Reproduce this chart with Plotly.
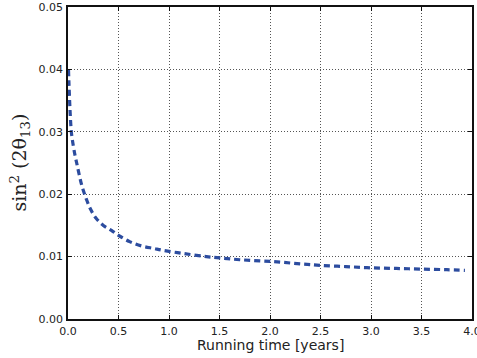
import plotly.graph_objects as go

years = [0.005, 0.01, 0.02, 0.033, 0.05, 0.07, 0.086, 0.11, 0.14, 0.18, 0.22, 0.28, 0.35, 0.43,
         0.5, 0.61, 0.73, 0.85, 0.94, 1.14, 1.37, 1.5, 1.7, 2.03, 2.33, 2.5, 2.75, 3.0, 3.25,
         3.5, 3.75, 3.93]
sin2 = [0.0399, 0.0375, 0.0335, 0.0300, 0.0280, 0.0262, 0.0250, 0.0232, 0.0212, 0.0193, 0.0177,
        0.0161, 0.0150, 0.0142, 0.0134, 0.0124, 0.0117, 0.0113, 0.0110, 0.0105, 0.0100, 0.0098,
        0.0095, 0.0092, 0.0088, 0.0086, 0.0084, 0.0082, 0.0081, 0.0080, 0.0079, 0.0078]

x_ticks = [0.0, 0.5, 1.0, 1.5, 2.0, 2.5, 3.0, 3.5, 4.0]
x_tick_labels = ["0.0", "0.5", "1.0", "1.5", "2.0", "2.5", "3.0", "3.5", "4.0"]
y_ticks = [0.0, 0.01, 0.02, 0.03, 0.04, 0.05]
y_tick_labels = ["0.00", "0.01", "0.02", "0.03", "0.04", "0.05"]

fig = go.Figure()
fig.add_trace(go.Scatter(
    x=years, y=sin2, mode="lines", line_shape="spline",
    line=dict(color="#2c4c9f", width=3.2, dash="6px,4px"),
    showlegend=False, hoverinfo="skip",
))

axis_common = dict(
    showline=True, linecolor="#111", linewidth=1.5, mirror="ticks",
    ticks="inside", ticklen=4, tickcolor="#111", tickwidth=1,
    showgrid=True, gridcolor="#555", griddash="1px,2px", gridwidth=1,
    zeroline=False, automargin=False, ticklabeloverflow="allow",
    tickfont=dict(family="DejaVu Sans", size=11, color="#222"),
)

fig.update_xaxes(range=[0, 4], tickvals=x_ticks, ticktext=x_tick_labels,
                 ticklabelstandoff=1, **axis_common)
fig.update_yaxes(range=[0, 0.05], tickvals=y_ticks, ticktext=y_tick_labels,
                 ticklabelstandoff=1, **axis_common)

fig.add_annotation(
    text="Running time [years]", xref="paper", yref="paper",
    x=0.5, y=-0.082, xanchor="center", yanchor="middle", showarrow=False,
    borderpad=0,
    font=dict(family="DejaVu Sans", size=14, color="#222"),
)
fig.add_annotation(
    text="sin<sup>2</sup> (2θ<sub>13</sub>)", xref="paper", yref="paper",
    x=-0.12, y=0.5, xanchor="center", yanchor="middle", showarrow=False,
    textangle=-90,
    font=dict(family="DejaVu Serif", size=19, color="#222"),
)

fig.update_layout(
    width=477, height=358,
    margin=dict(l=68, r=5, t=7, b=39, autoexpand=False),
    paper_bgcolor="white", plot_bgcolor="white",
)

fig.write_html(
    "out.html",
    config={"displayModeBar": False},
    post_script="document.body.style.margin='0';document.body.style.overflow='hidden';",
)
